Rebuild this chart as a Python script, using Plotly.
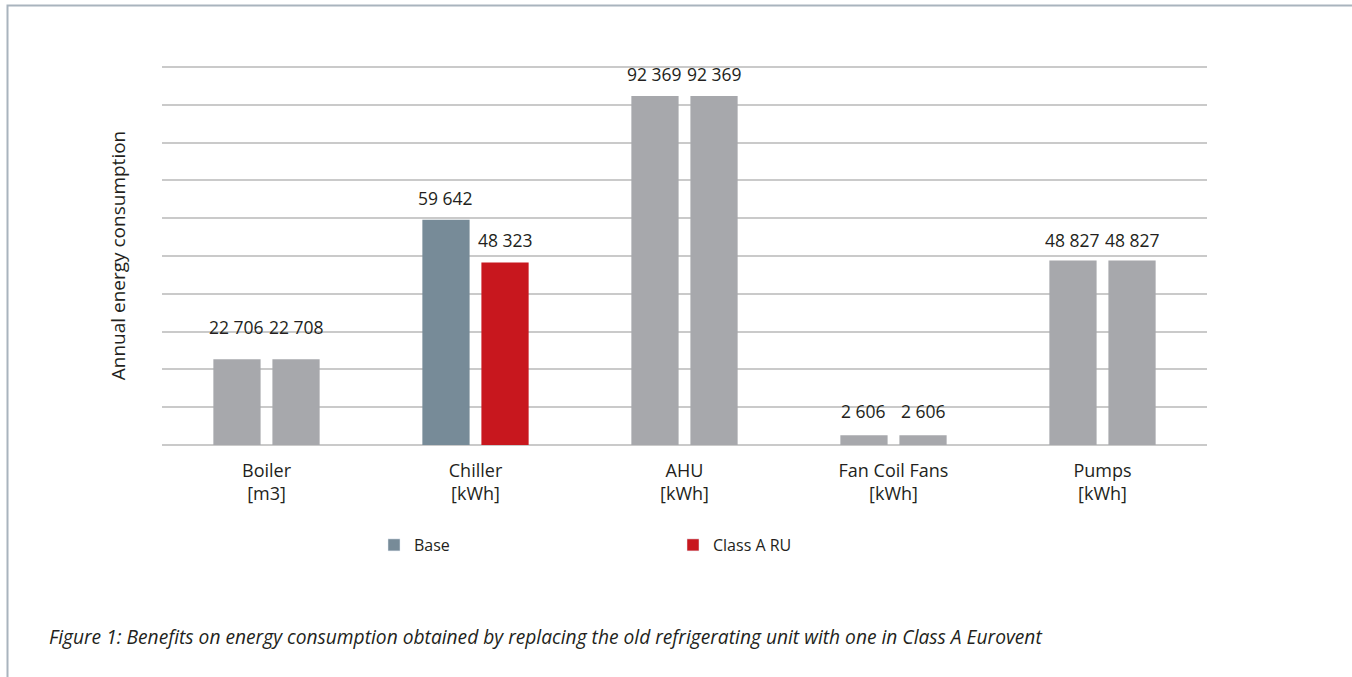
import plotly.graph_objects as go

categories = ["Boiler", "Chiller", "AHU", "Fan Coil Fans", "Pumps"]
units = ["[m3]", "[kWh]", "[kWh]", "[kWh]", "[kWh]"]
base_values = [22706, 59642, 92369, 2606, 48827]
class_a_values = [22708, 48323, 92369, 2606, 48827]
series_names = ["Base", "Class A RU"]

GREY = "#a7a8ac"
BASE_COL = "#778b98"
RED = "#c8171e"
TXT = "#231f20"
FONT = "Open Sans"

base_colors = [BASE_COL if c == "Chiller" else GREY for c in categories]
class_colors = [RED if c == "Chiller" else GREY for c in categories]

x_labels = [f"{c}<br>{u}" for c, u in zip(categories, units)]

BARGAP = 0.435
Y_TOP = 100300
PLOT_H = 379
fig = go.Figure()
fig.add_trace(go.Bar(x=x_labels, y=base_values, marker=dict(color=base_colors, line_width=0),
                     offsetgroup="a", showlegend=False, hoverinfo="y"))
fig.add_trace(go.Bar(x=x_labels, y=class_a_values, marker=dict(color=class_colors, line_width=0),
                     offsetgroup="b", showlegend=False, hoverinfo="y"))
# legend entries
fig.add_trace(go.Bar(x=[None], y=[None], name=series_names[0], marker_color=BASE_COL, offsetgroup="a"))
fig.add_trace(go.Bar(x=[None], y=[None], name=series_names[1], marker_color=RED, offsetgroup="b"))

label_lift = [32, 22, 22, 24, 21]
off = (1 - BARGAP) / 4
annotations = []
for i in range(len(categories)):
    for sgn, vals in ((-1, base_values), (1, class_a_values)):
        annotations.append(dict(x=i + sgn * off, y=vals[i], xref="x", yref="y",
                                text=f"{vals[i]:,}".replace(",", " "), showarrow=False,
                                yanchor="middle", yshift=label_lift[i],
                                font=dict(family=FONT, size=17.5, color=TXT)))
annotations.append(dict(x=(47 - 162) / 1045, y=(445 - 636) / PLOT_H, xref="paper", yref="paper",
                        xanchor="left", yanchor="middle", showarrow=False,
                        text="<i>Figure 1: Benefits on energy consumption obtained by replacing the old refrigerating unit with one in Class A Eurovent</i>",
                        font=dict(family=FONT, size=19.2, color=TXT)))

fig.update_layout(
    width=1352, height=677,
    margin=dict(l=162, r=145, t=66, b=232),
    paper_bgcolor="white", plot_bgcolor="white",
    barmode="group", bargap=BARGAP, bargroupgap=0.2,
    font=dict(family=FONT, size=16, color=TXT),
    showlegend=True,
    legend=dict(orientation="h", x=(374 - 162) / 1045, y=(445 - 545) / PLOT_H, xanchor="left", yanchor="middle",
                entrywidth=254, font=dict(size=16, color=TXT), itemclick=False),
    annotations=annotations,
    shapes=[dict(type="rect", xref="paper", yref="paper",
                 x0=(7.5 - 162) / 1045, x1=(1400 - 162) / 1045,
                 y0=(445 - 720) / PLOT_H, y1=(445 - 5.5) / PLOT_H,
                 line=dict(color="#a9b4be", width=2), fillcolor="rgba(0,0,0,0)", layer="below")],
)
fig.update_xaxes(type="category", showgrid=False, showline=False, ticks="", ticklabelstandoff=13,
                 tickfont=dict(size=18, color=TXT))
fig.update_yaxes(range=[0, Y_TOP], tickvals=list(range(0, 100001, 10000)), showticklabels=False,
                 gridcolor="#cacaca", gridwidth=1.5,
                 zeroline=True, zerolinecolor="#cacaca", zerolinewidth=1.5,
                 title=dict(text="Annual energy consumption", standoff=30, font=dict(size=19, color=TXT)))

fig.write_html("out.html")
